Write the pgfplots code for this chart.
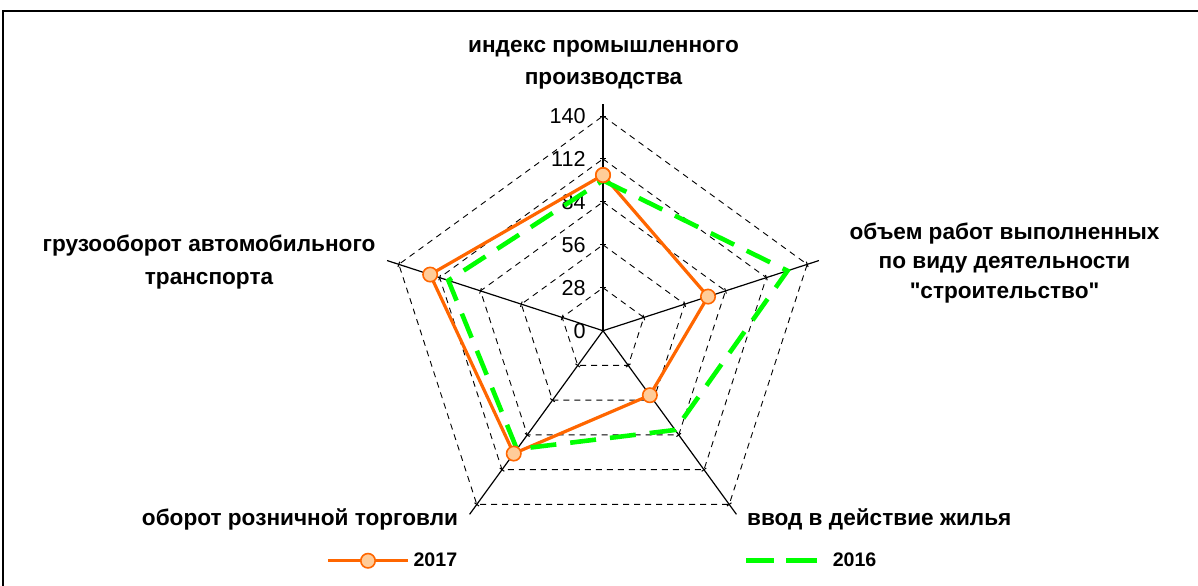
\documentclass[border=0pt]{standalone}
\usepackage{fontspec}
\setmainfont{Liberation Sans}
\newfontfamily\plainfont{Liberation Sans}% no TeX ligatures: keeps straight quotes
\usepackage{pgfplots}
\pgfplotsset{compat=1.18}
\usepgfplotslibrary{polar}
\definecolor{s17}{RGB}{255,102,0}
\definecolor{s17fill}{RGB}{255,204,153}
\definecolor{s16}{RGB}{0,255,0}

% angle (deg), value 2017, value 2016 -- clockwise from the top, closed
\pgfplotstableread{
ang v17 v16
90  101.5 98
18  72    126.5
306 52    80
234 99    95.5
162 118.5 106
90  101.5 98
}\radar

\tikzset{
  catlabel/.style={font=\fontsize{11.3}{13}\selectfont\bfseries, inner sep=0pt, anchor=base},
  gridline/.style={black, line width=0.45pt, dash pattern=on 3pt off 2.5pt},
}
\pgfplotsset{
  leg17/.style={legend image code/.code={\draw[mark repeat=2, mark phase=2, ##1] plot coordinates {(0pt,0pt)(20pt,0pt)(40pt,0pt)};}},
  leg16/.style={legend image code/.code={\path (0pt,0pt) -- (40pt,0pt);
      \draw[##1, dash pattern=on 14pt off 7.5pt] (0pt,0pt) -- (35.5pt,0pt);}},
}

\begin{document}
\begin{tikzpicture}
\useasboundingbox (0,0) rectangle (599pt,292.5pt);
\draw[line width=1pt] (1.5pt,-5pt) rectangle (610pt,287pt);

\begin{polaraxis}[
  at={(301.5pt,127.15pt)}, anchor=center,
  scale only axis, width=230.04pt, height=230.04pt,
  xmin=0, xmax=360, ymin=0, ymax=150,
  hide axis, clip=false,
  legend columns=2,
  legend style={draw=none, fill=none, inner sep=0pt,
    at={(axis description cs:-0.1021,0)}, anchor=west,
    font=\fontsize{9.8}{11}\selectfont\bfseries,
    /tikz/every even column/.append style={column sep=141.5pt},
    nodes={inner sep=2pt}},
]
  % pentagonal grid
  \pgfplotsinvokeforeach{28,56,84,112,140}{
    \addplot[gridline, forget plot] coordinates {(90,#1)(18,#1)(306,#1)(234,#1)(162,#1)(90,#1)};
  }
  % spokes with ticks
  \pgfplotsinvokeforeach{90,18,306,234,162}{
    \addplot[black, line width=0.6pt, forget plot] coordinates {(#1,0)(#1,148)};
    \addplot[only marks, mark=|, mark size=1.4pt, mark options={black, line width=0.5pt, rotate=#1}, forget plot]
      coordinates {(#1,28)(#1,56)(#1,84)(#1,112)(#1,140)};
  }
  % tick labels along the top spoke
  \pgfplotsinvokeforeach{0,28,56,84,112,140}{
    \node[anchor=east, inner sep=0pt, font=\fontsize{10.8}{12}\selectfont] at (axis cs:90,#1) [xshift=-8.5pt] {#1};
  }

  \addplot[s17, line width=1.6pt, mark=*, mark size=3.6pt,
    mark options={fill=s17fill, draw=s17, line width=0.8pt}, leg17]
    table[x=ang, y=v17] {\radar};
  \addlegendentry{2017}

  \addplot[s16, line width=2.3pt, dash pattern=on 13pt off 7pt, leg16]
    table[x=ang, y=v16] {\radar};
  \addlegendentry{2016}
\end{polaraxis}

\node[catlabel] at (301.75pt,266.2pt) {индекс промышленного};
\node[catlabel] at (301.75pt,250.4pt) {производства};
\node[catlabel] at (502.25pt,172.9pt) {объем работ выполненных};
\node[catlabel] at (502.25pt,158.15pt) {по виду деятельности};
\node[catlabel] at (502.25pt,143.4pt) {{\plainfont"}строительство{\plainfont"}};
\node[catlabel] at (104.5pt,166.7pt) {грузооборот автомобильного};
\node[catlabel] at (104.5pt,150.4pt) {транспорта};
\node[catlabel, anchor=base west] at (373.35pt,29.55pt) {ввод в действие жилья};
\node[catlabel, anchor=base east] at (229.15pt,29.55pt) {оборот розничной торговли};
\end{tikzpicture}
\end{document}
